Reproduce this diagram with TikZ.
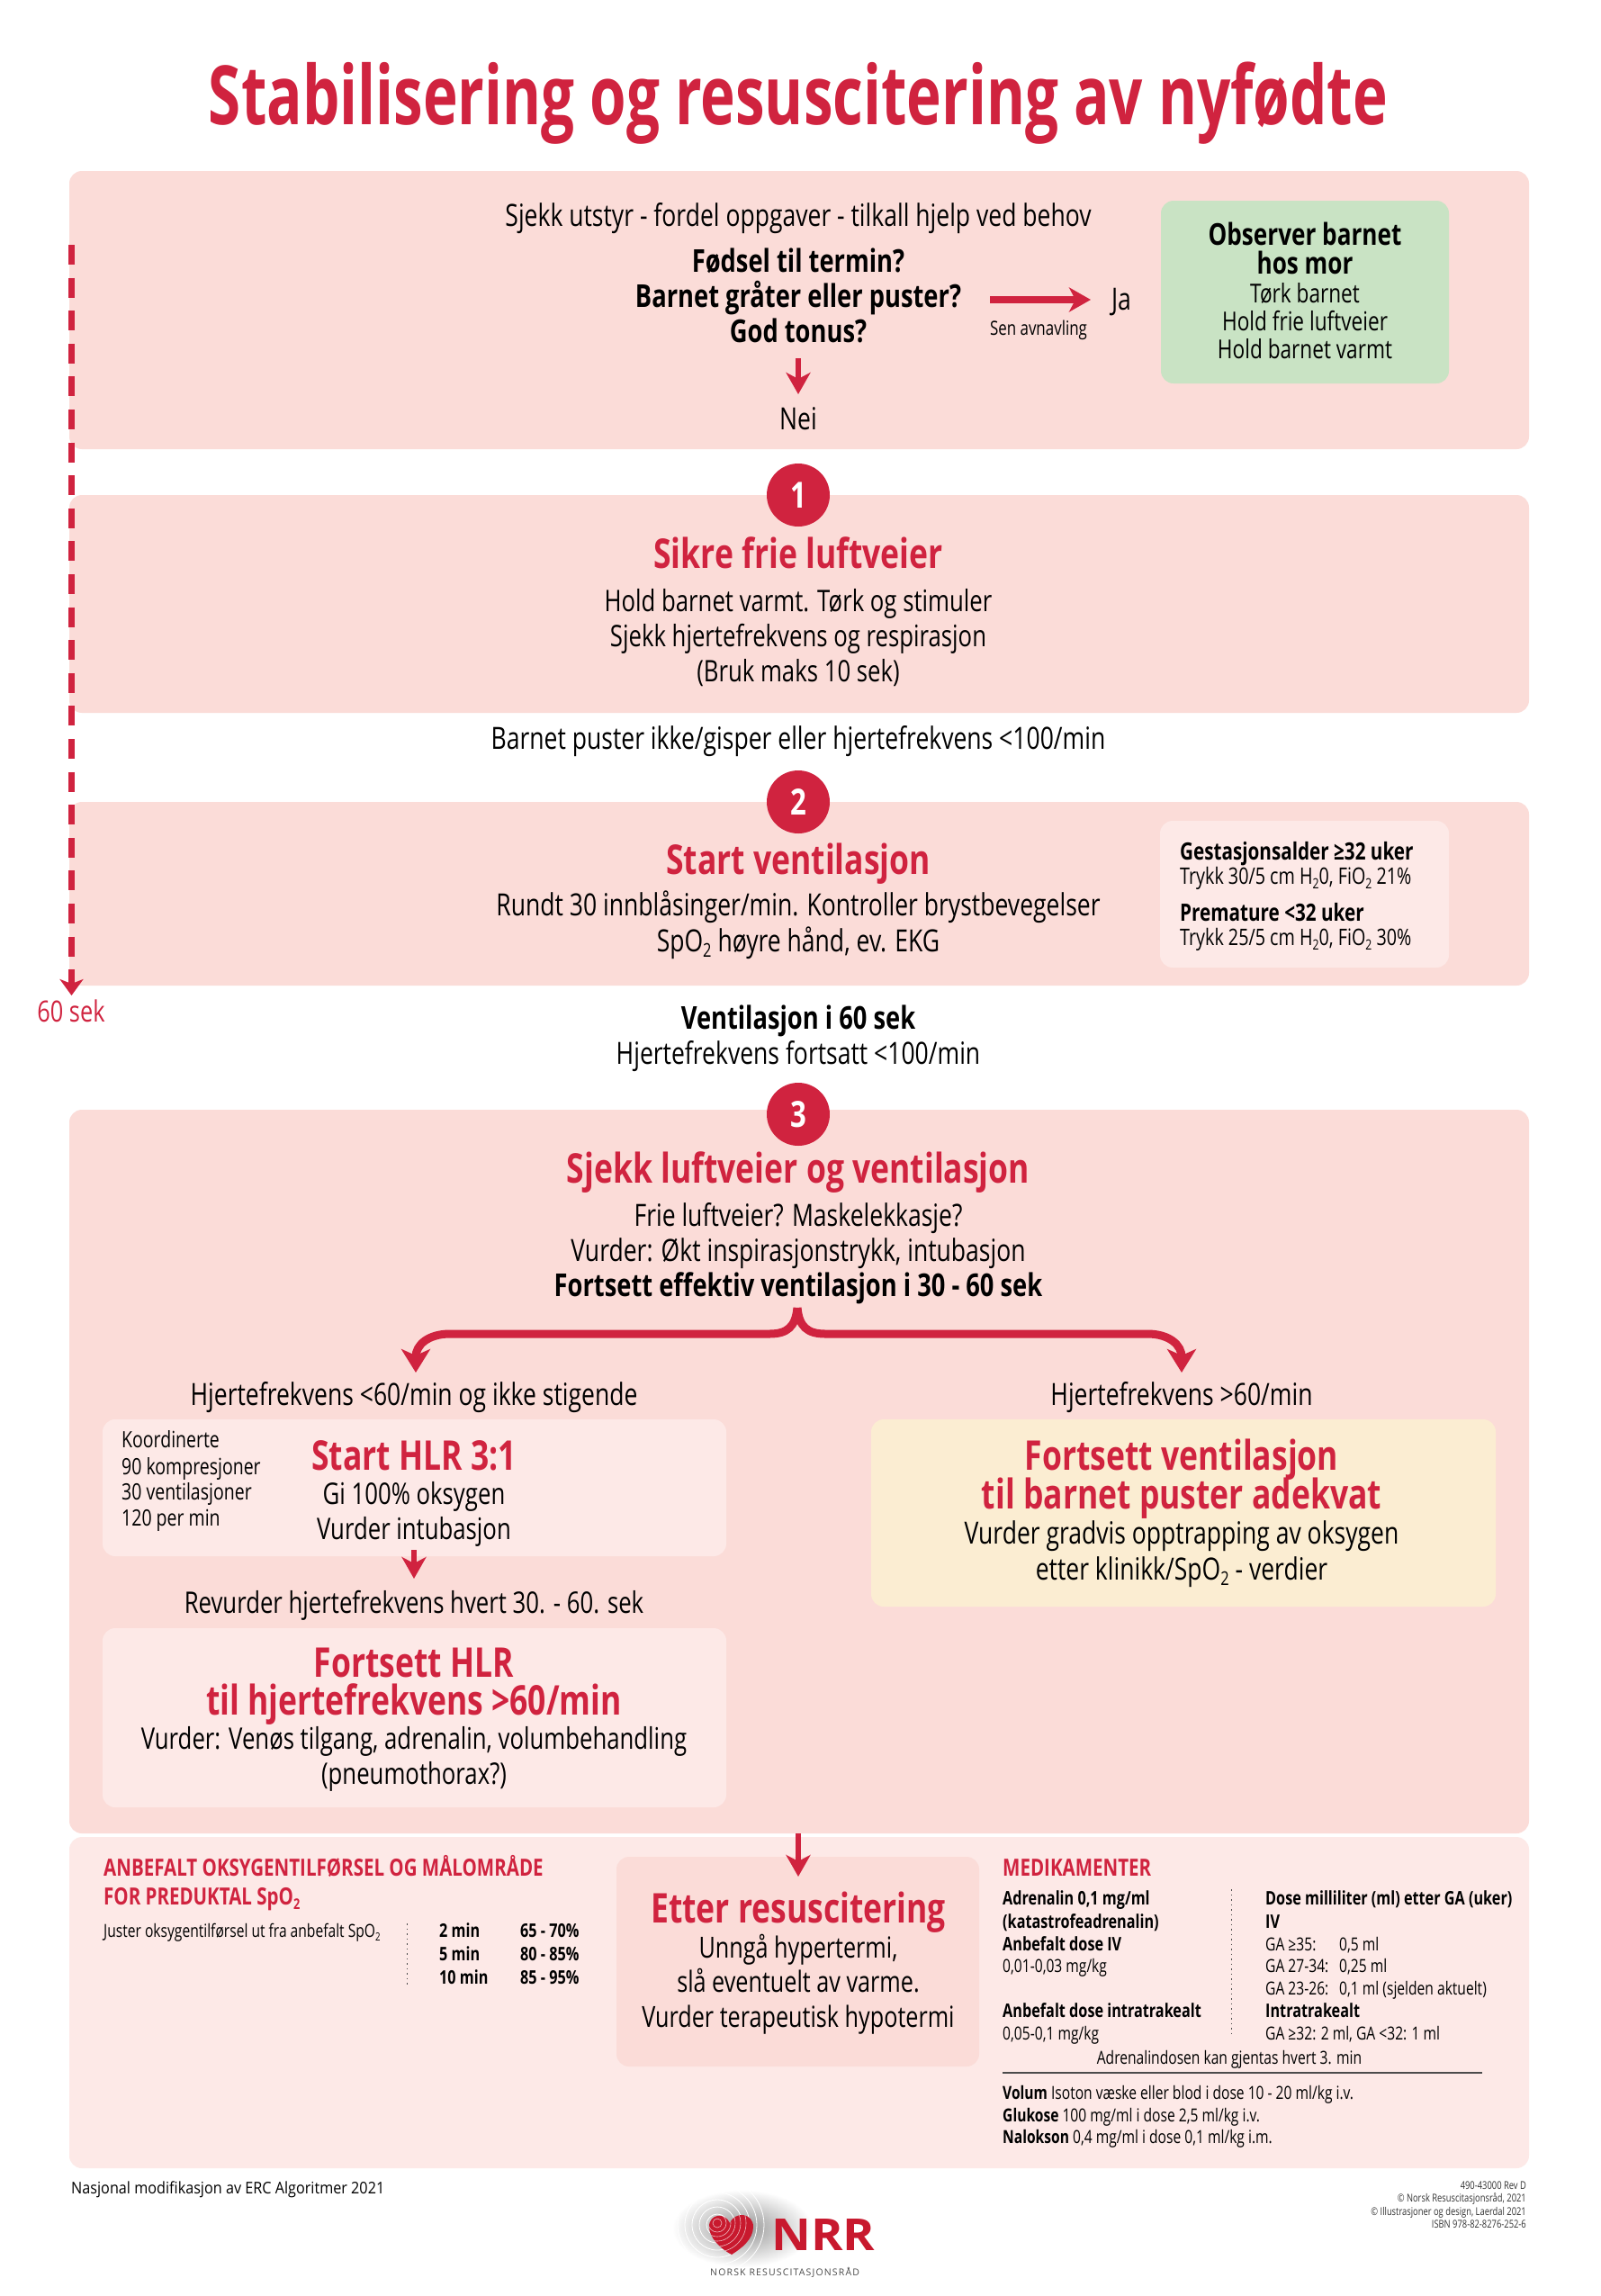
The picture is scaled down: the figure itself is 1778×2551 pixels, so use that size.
\documentclass[tikz,border=0pt]{standalone}
\usepackage{fontspec}
\usepackage{graphicx}
\usetikzlibrary{arrows.meta}
\setmainfont{Open Sans}[FakeStretch=0.78]
\newfontfamily\titlefont{Open Sans}[FakeStretch=0.72]
\newfontfamily\widefont{Open Sans}[FakeStretch=0.9]
\newfontfamily\logofont{Open Sans}[FakeStretch=1.1]
\newfontfamily\logosmall{Open Sans}[LetterSpace=11]
\definecolor{nrrred}{HTML}{D0233F}
\definecolor{logored}{HTML}{C8192E}
\definecolor{panelbg}{HTML}{FBDCD8}
\definecolor{palebg}{HTML}{FDE9E7}
\definecolor{greenbg}{HTML}{C9E3C4}
\definecolor{yellowbg}{HTML}{FBEDD2}
\newcommand{\lowtwo}{\raisebox{-.2em}{\scalebox{.62}{2}}}
\newcommand{\fs}[1]{\fontsize{#1}{#1}\selectfont}
\tikzset{
  panel/.style={fill=panelbg,draw=none,rounded corners=14},
  inner/.style={draw=none,rounded corners=14},
  txt/.style={anchor=mid,inner sep=0pt,yshift=-9.5pt,font=\fs{34}},
  tighttxt/.style={anchor=mid,inner sep=0pt,yshift=-9.5pt,font=\fs{33}},
  btxt/.style={anchor=mid,inner sep=0pt,yshift=-9.5pt,font=\fs{35}\bfseries},
  head/.style={anchor=mid,inner sep=0pt,yshift=-14pt,text=nrrred,font=\fs{45.5}\bfseries},
  small/.style={anchor=mid west,inner sep=0pt,yshift=-7pt,font=\fs{20}},
  bsmall/.style={anchor=mid west,inner sep=0pt,yshift=-7pt,font=\fs{20.8}\bfseries},
  sect/.style={anchor=mid west,inner sep=0pt,yshift=-8pt,text=nrrred,font=\fs{26.3}\bfseries},
  gest/.style={anchor=mid west,inner sep=0pt,yshift=-5pt,font=\fs{25.3}},
  bgest/.style={anchor=mid west,inner sep=0pt,yshift=-6pt,font=\fs{26.5}\bfseries},
  koord/.style={anchor=mid west,inner sep=0pt,yshift=-6pt,font=\fs{25}},
  credit/.style={anchor=mid east,inner sep=0pt,yshift=-2pt,font=\fs{12}\color{black!80}},
  numc/.style={circle,fill=nrrred,text=white,inner sep=0pt,minimum size=70,font=\fs{40}\bfseries},
  redarrow/.style={draw=nrrred,line width=8,-{Stealth[length=24,width=27,inset=7]}},
  redfork/.style={draw=nrrred,line width=9,-{Stealth[length=26,width=32,inset=7]}},
  dotv/.style={draw=black!70,line width=1,dash pattern=on 1.5 off 4},
}
\begin{document}
\begin{tikzpicture}[x=1pt,y=-1pt]
\useasboundingbox (0,0) rectangle (1778,2551);
\fill[white] (0,0) rectangle (1778,2551);

% title
\node[anchor=mid,inner sep=0pt,text=nrrred,font=\titlefont\fs{91}\bfseries] (title) at (887,136) {Stabilisering og resuscitering av nyfødte};

% panels
\path[panel] (77,190) rectangle (1699,499);
\path[panel] (77,550) rectangle (1699,792);
\path[panel] (77,891) rectangle (1699,1095);
\path[panel] (77,1233) rectangle (1699,2037);
\path[inner,fill=palebg] (77,2041) rectangle (1699,2409);

% timeline
\coordinate (tlstart) at (79.5,272);
\coordinate (tlend) at (79.5,1106);
\node[anchor=mid,inner sep=0pt,yshift=-9pt,text=nrrred,font=\fs{32.5}] (sixty) at (79,1124) {60 sek};
\draw[draw=nrrred,line width=7,dash pattern=on 22 off 14.6] (tlstart) -- (79.5,1090);
\draw[draw=nrrred,line width=7,-{Stealth[length=18,width=26,inset=5]}] (79.5,1086) -- (tlend);

% panel 1
\node[txt] (check) at (887,239) {Sjekk utstyr - fordel oppgaver - tilkall hjelp ved behov};
\node[btxt] (q1) at (887,290) {Fødsel til termin?};
\node[btxt] (q2) at (887,329) {Barnet gråter eller puster?};
\node[btxt] (q3) at (887,368) {God tonus?};
\coordinate (yesstart) at (1100,333);
\coordinate (yesend) at (1212,333);
\draw[redarrow] (yesstart) -- (yesend);
\node[txt] (ja) at (1246,332) {Ja};
\node[anchor=mid,inner sep=0pt,yshift=-6pt,font=\fs{21.7}] (late) at (1154,364) {Sen avnavling};
\coordinate (nostart) at (887,398);
\coordinate (noend) at (887,438);
\draw[redarrow,line width=6] (nostart) -- (noend);
\node[txt] (nei) at (887,465) {Nei};
\path[inner,fill=greenbg] (1290,223) rectangle (1610,426);
\node[btxt,font=\fs{33.5}\bfseries] (obs1) at (1450,260) {Observer barnet};
\node[btxt,font=\fs{33.5}\bfseries] (obs2) at (1450,292) {hos mor};
\node[txt,font=\fs{29}] (obs3) at (1450,324) {Tørk barnet};
\node[txt,font=\fs{29}] (obs4) at (1450,355) {Hold frie luftveier};
\node[txt,font=\fs{29}] (obs5) at (1450,386) {Hold barnet varmt};

% step 1
\node[numc] (n1) at (887,550) {1};
\node[head] (h1) at (887,615) {Sikre frie luftveier};
\node[tighttxt] (a1) at (887,667) {Hold barnet varmt. Tørk og stimuler};
\node[tighttxt] (a2) at (887,706) {Sjekk hjertefrekvens og respirasjon};
\node[tighttxt] (a3) at (887,745) {(Bruk maks 10 sek)};
\node[txt] (cond1) at (887,820) {Barnet puster ikke/gisper eller hjertefrekvens <100/min};

% step 2
\node[numc] (n2) at (887,891) {2};
\node[head] (h2) at (887,955) {Start ventilasjon};
\node[txt] (b1) at (887,1005) {Rundt 30 innblåsinger/min. Kontroller brystbevegelser};
\node[txt] (b2) at (887,1045) {SpO\lowtwo{} høyre hånd, ev. EKG};
\path[inner,fill=palebg] (1289,912) rectangle (1610,1075);
\node[bgest] (g1) at (1311,947) {Gestasjonsalder ≥32 uker};
\node[gest] (g2) at (1311,975) {Trykk 30/5 cm H\lowtwo{}0, FiO\lowtwo{} 21\%};
\node[bgest] (g3) at (1311,1015) {Premature <32 uker};
\node[gest] (g4) at (1311,1043) {Trykk 25/5 cm H\lowtwo{}0, FiO\lowtwo{} 30\%};
\node[btxt] (v1) at (887,1131) {Ventilasjon i 60 sek};
\node[txt] (v2) at (887,1170) {Hjertefrekvens fortsatt <100/min};

% step 3
\node[numc] (n3) at (887,1238) {3};
\node[head] (h3) at (887,1298) {Sjekk luftveier og ventilasjon};
\node[txt] (c1) at (887,1350) {Frie luftveier? Maskelekkasje?};
\node[txt] (c2) at (887,1389) {Vurder: Økt inspirasjonstrykk, intubasjon};
\node[btxt] (c3) at (887,1428) {Fortsett effektiv ventilasjon i 30 - 60 sek};
\coordinate (forktop) at (886,1453);
\coordinate (forkl) at (462,1525);
\coordinate (forkr) at (1313,1525);
\draw[redfork] (forktop) .. controls (884,1474) and (875,1482) .. (855,1482) -- (500,1482) .. controls (475,1482) and (462,1495) .. (forkl);
\draw[redfork] (forktop) .. controls (888,1474) and (897,1482) .. (917,1482) -- (1275,1482) .. controls (1300,1482) and (1313,1495) .. (forkr);
\node[txt] (left1) at (460,1549) {Hjertefrekvens <60/min og ikke stigende};
\node[txt] (right1) at (1313,1549) {Hjertefrekvens >60/min};

\path[inner,fill=palebg] (114,1577) rectangle (807,1729);
\node[koord] (k1) at (135,1600) {Koordinerte};
\node[koord] (k2) at (135,1630) {90 kompresjoner};
\node[koord] (k3) at (135,1658) {30 ventilasjoner};
\node[koord] (k4) at (135,1687) {120 per min};
\node[head] (h4) at (460,1617) {Start HLR 3:1};
\node[tighttxt] (d1) at (460,1659) {Gi 100\% oksygen};
\node[tighttxt] (d2) at (460,1698) {Vurder intubasjon};
\coordinate (revstart) at (460,1722);
\coordinate (revend) at (460,1754);
\draw[redarrow,line width=6] (revstart) -- (revend);
\node[tighttxt] (rev) at (460,1780) {Revurder hjertefrekvens hvert 30. - 60. sek};
\path[inner,fill=palebg] (114,1809) rectangle (807,2008);
\node[head] (h5) at (460,1847) {Fortsett HLR};
\node[head] (h6) at (460,1889) {til hjertefrekvens >60/min};
\node[tighttxt] (e1) at (460,1931) {Vurder: Venøs tilgang, adrenalin, volumbehandling};
\node[tighttxt] (e2) at (460,1970) {(pneumothorax?)};
\path[inner,fill=yellowbg] (968,1577) rectangle (1662,1785);
\node[head] (h7) at (1313,1617) {Fortsett ventilasjon};
\node[head] (h8) at (1313,1660) {til barnet puster adekvat};
\node[txt] (f1) at (1313,1703) {Vurder gradvis opptrapping av oksygen};
\node[txt] (f2) at (1313,1743) {etter klinikk/SpO\lowtwo{} - verdier};

% bottom panel
\path[inner,fill=panelbg] (685,2063) rectangle (1088,2296);
\coordinate (aftstart) at (887,2037);
\coordinate (aftend) at (887,2085);
\draw[redarrow,line width=6] (aftstart) -- (aftend);
\node[head] (h9) at (887,2120) {Etter resuscitering};
\node[tighttxt,font=\fs{32.3}] (g5) at (887,2163) {Unngå hypertermi,};
\node[tighttxt,font=\fs{32.3}] (g6) at (887,2201) {slå eventuelt av varme.};
\node[tighttxt,font=\fs{32.3}] (g7) at (887,2240) {Vurder terapeutisk hypotermi};

\node[sect] (s1) at (115,2074) {ANBEFALT OKSYGENTILFØRSEL OG MÅLOMRÅDE};
\node[sect] (s2) at (115,2106) {FOR PREDUKTAL SpO\lowtwo};
\node[small] (j1) at (115,2143) {Juster oksygentilførsel ut fra anbefalt SpO\lowtwo};
\coordinate (dot1a) at (452,2137);
\coordinate (dot1b) at (452,2207);
\draw[dotv] (dot1a) -- (dot1b);
\node[bsmall] (t1) at (488,2143) {2 min};
\node[bsmall] (t2) at (488,2169) {5 min};
\node[bsmall] (t3) at (488,2195) {10 min};
\node[bsmall] (p1) at (578,2143) {65 - 70\%};
\node[bsmall] (p2) at (578,2169) {80 - 85\%};
\node[bsmall] (p3) at (578,2195) {85 - 95\%};

\node[sect] (s3) at (1114,2074) {MEDIKAMENTER};
\node[bsmall] (m1) at (1114,2107) {Adrenalin 0,1 mg/ml};
\node[bsmall] (m2) at (1114,2133) {(katastrofeadrenalin)};
\node[bsmall] (m3) at (1114,2158) {Anbefalt dose IV};
\node[small] (m4) at (1114,2182) {0,01-0,03 mg/kg};
\node[bsmall] (m5) at (1114,2232) {Anbefalt dose intratrakealt};
\node[small] (m6) at (1114,2257) {0,05-0,1 mg/kg};
\coordinate (dot2a) at (1368,2099);
\coordinate (dot2b) at (1368,2263);
\draw[dotv] (dot2a) -- (dot2b);
\node[bsmall] (r1) at (1406,2107) {Dose milliliter (ml) etter GA (uker)};
\node[bsmall] (r2) at (1406,2133) {IV};
\node[small] (r3) at (1406,2158) {\makebox[82pt][l]{GA ≥35:}0,5 ml};
\node[small] (r4) at (1406,2182) {\makebox[82pt][l]{GA 27-34:}0,25 ml};
\node[small] (r5) at (1406,2207) {\makebox[82pt][l]{GA 23-26:}0,1 ml (sjelden aktuelt)};
\node[bsmall] (r6) at (1406,2232) {Intratrakealt};
\node[small] (r7) at (1406,2257) {GA ≥32: 2 ml, GA <32: 1 ml};
\node[small,anchor=mid] (r8) at (1366,2284) {Adrenalindosen kan gjentas hvert 3. min};
\coordinate (rulea) at (1114,2303);
\coordinate (ruleb) at (1647,2303);
\draw[draw=black!70,line width=1.5] (rulea) -- (ruleb);
\node[small] (o1) at (1114,2323) {\textbf{Volum} Isoton væske eller blod i dose 10 - 20 ml/kg i.v.};
\node[small] (o2) at (1114,2348) {\textbf{Glukose} 100 mg/ml i dose 2,5 ml/kg i.v.};
\node[small] (o3) at (1114,2372) {\textbf{Nalokson} 0,4 mg/ml i dose 0,1 ml/kg i.m.};

% footer
\node[anchor=mid west,inner sep=0pt,yshift=-6pt,font=\widefont\fs{18}] (nat) at (79,2429) {Nasjonal modifikasjon av ERC Algoritmer 2021};
\node[credit] (cr1) at (1696,2428) {490-43000 Rev D};
\node[credit] (cr2) at (1696,2442) {© Norsk Resuscitasjonsråd, 2021};
\node[credit] (cr3) at (1696,2457) {© Illustrasjoner og design, Laerdal 2021};
\node[credit] (cr4) at (1696,2471) {ISBN 978-82-8276-252-6};

% logo
\shade[inner color=black!42,outer color=white] (825,2476) ellipse (78 and 43);
\foreach \r in {12,20,28,36,44,52}{
  \draw[white,line width=0.8] (797,2472) circle (\r);
}
\fill[fill=logored] (813,2505) .. controls (800,2498) and (788,2486) .. (788,2474) .. controls (788,2459) and (806,2458) .. (811,2470) .. controls (817,2456) and (837,2459) .. (837,2474) .. controls (837,2488) and (824,2498) .. (813,2505) -- cycle;
\begin{scope}
\clip (813,2505) .. controls (800,2498) and (788,2486) .. (788,2474) .. controls (788,2459) and (806,2458) .. (811,2470) .. controls (817,2456) and (837,2459) .. (837,2474) .. controls (837,2488) and (824,2498) .. (813,2505) -- cycle;
\foreach \r in {5,10,15,20,26,32}{
  \draw[white!70!logored,line width=0.6] (797,2470) circle (\r);
}
\end{scope}
\node[anchor=base west,inner sep=0pt,text=logored,font=\logofont\fs{49}\bfseries] (nrr) at (857,2500) {NRR};
\node[anchor=base west,inner sep=0pt,text=black!70,font=\logosmall\fs{10.5}] (nrrname) at (789,2528) {NORSK RESUSCITASJONSRÅD};
\end{tikzpicture}
\end{document}
